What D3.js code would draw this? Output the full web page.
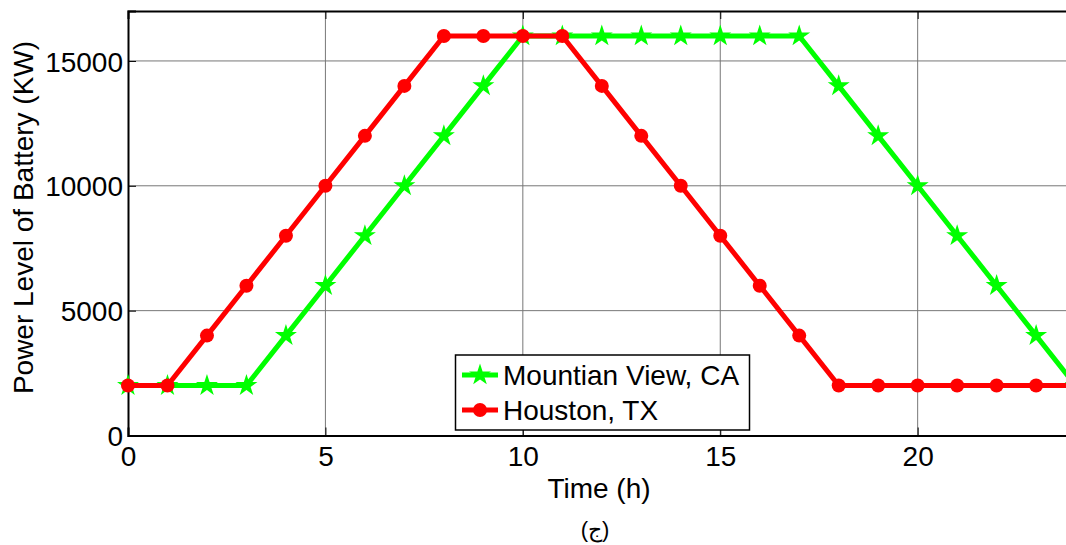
<!DOCTYPE html>
<html><head><meta charset="utf-8">
<script src="https://d3js.org/d3.v7.min.js"></script>
<style>body{margin:0;background:#fff}text{font-family:"Liberation Sans",Arial,sans-serif}</style>
</head><body><svg id="c" width="1066" height="545"></svg>
<script>
const hours = d3.range(0, 25);
const mountainView = [2000,2000,2000,2000,4000,6000,8000,10000,12000,14000,16000,16000,16000,16000,16000,16000,16000,16000,14000,12000,10000,8000,6000,4000,2000];
const houston = [2000,2000,4000,6000,8000,10000,12000,14000,16000,16000,16000,16000,14000,12000,10000,8000,6000,4000,2000,2000,2000,2000,2000,2000,2000];
const xTicks = [0,5,10,15,20];
const yTicks = [0,5000,10000,15000];
const seriesNames = ["Mountian View, CA", "Houston, TX"];

const FS = 28;
const svg = d3.select("#c");
const x = d3.scaleLinear().domain([0,24]).range([128,1075.6]);
const y = d3.scaleLinear().domain([0,17000]).range([435.5,11]);

// grid
svg.append("g").selectAll("line").data(xTicks.slice(1)).join("line")
  .attr("x1",d=>x(d)).attr("x2",d=>x(d)).attr("y1",y(0)).attr("y2",y(17000))
  .attr("stroke","#777").attr("stroke-width",1);
svg.append("g").selectAll("line").data(yTicks.slice(1)).join("line")
  .attr("x1",x(0)).attr("x2",1066).attr("y1",d=>y(d)).attr("y2",d=>y(d))
  .attr("stroke","#777").attr("stroke-width",1);

// axes
const xAxis = svg.append("g").attr("transform",`translate(0,${y(0)})`)
  .call(d3.axisBottom(x).tickValues(xTicks).tickSize(-8).tickPadding(11).tickFormat(d3.format("d")));
const xTop = svg.append("g").attr("transform",`translate(0,${y(17000)})`)
  .call(d3.axisTop(x).tickValues(xTicks).tickSize(-8).tickFormat(""));
const yAxis = svg.append("g").attr("transform",`translate(${x(0)},0)`)
  .call(d3.axisLeft(y).tickValues(yTicks).tickSize(-8).tickPadding(5).tickFormat(d3.format("d")));
[xAxis,xTop,yAxis].forEach(g=>{
  g.attr("font-size",FS).attr("font-family","Liberation Sans, Arial, sans-serif");
  g.select(".domain").attr("stroke","#000").attr("stroke-width",2);
  g.selectAll(".tick line").attr("stroke","#000").attr("stroke-width",1);
  g.selectAll("text").attr("font-size",FS).attr("fill","#000");
});
yAxis.selectAll("text").attr("dy","0.36em");

// labels
svg.append("text").attr("x",599).attr("y",498).attr("text-anchor","middle").attr("font-size",FS).text("Time (h)");
svg.append("text").attr("transform",`translate(33,217.5) rotate(-90)`).attr("text-anchor","middle").attr("font-size",FS).text("Power Level of Battery (KW)");
svg.append("text").attr("x",595).attr("y",537).attr("text-anchor","middle").attr("font-size",22).attr("font-family","DejaVu Serif, serif").text("(ج)");

const plot = svg.append("g");
const line = d3.line().x((d,i)=>x(hours[i])).y(d=>y(d));
const star = d3.symbol().type(d3.symbolStar).size(150);
const circ = d3.symbol().type(d3.symbolCircle).size(Math.PI*49);

plot.append("path").datum(mountainView).attr("d",line).attr("fill","none").attr("stroke","#00ff00").attr("stroke-width",5).attr("stroke-linejoin","round");
plot.append("g").selectAll("path").data(mountainView).join("path")
  .attr("transform",(d,i)=>`translate(${x(hours[i])},${y(d)})`).attr("d",star).attr("fill","#00ff00");
plot.append("path").datum(houston).attr("d",line).attr("fill","none").attr("stroke","#ff0000").attr("stroke-width",5).attr("stroke-linejoin","round");
plot.append("g").selectAll("path").data(houston).join("path")
  .attr("transform",(d,i)=>`translate(${x(hours[i])},${y(d)})`).attr("d",circ).attr("fill","#ff0000");

// legend
const lg = svg.append("g");
lg.append("rect").attr("x",455.5).attr("y",355).attr("width",294).attr("height",75).attr("fill","#fff").attr("stroke","#000").attr("stroke-width",1.5);
const colors = ["#00ff00","#ff0000"];
const syms = [star, circ];
seriesNames.forEach((n,i)=>{
  const yy = 375 + i*35;
  lg.append("line").attr("x1",462).attr("x2",498).attr("y1",yy).attr("y2",yy).attr("stroke",colors[i]).attr("stroke-width",5);
  lg.append("path").attr("transform",`translate(480,${yy})`).attr("d",syms[i]).attr("fill",colors[i]);
  lg.append("text").attr("x",503).attr("y",yy).attr("dy","0.36em").attr("font-size",FS).text(n);
});
</script></body></html>
